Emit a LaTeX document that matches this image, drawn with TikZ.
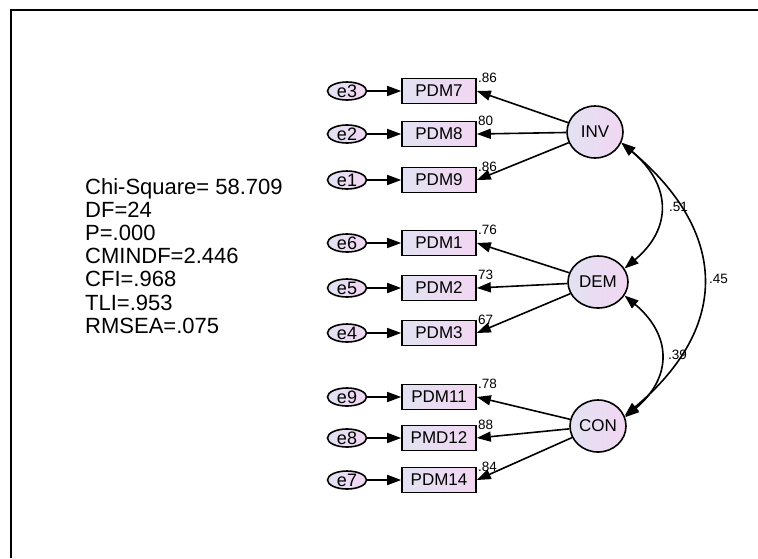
\documentclass[tikz,border=0pt]{standalone}
\usepackage{fontspec}
\setmainfont{Liberation Sans}
\usetikzlibrary{arrows.meta,shapes.geometric}
\definecolor{lavL}{RGB}{226,226,242}
\definecolor{lavR}{RGB}{242,214,242}
\tikzset{
 obs/.style={draw,line width=1.6pt,minimum width=74pt,minimum height=25pt,inner sep=0pt,
  left color=lavL,right color=lavR,font=\fontsize{17}{17}\selectfont},
 err/.style={draw,line width=1.6pt,ellipse,minimum width=39pt,minimum height=18pt,inner sep=0pt,
  left color=lavL,right color=lavR,font=\fontsize{18}{18}\selectfont},
 lat/.style={draw,line width=1.6pt,ellipse,minimum width=56pt,minimum height=52pt,inner sep=0pt,
  left color=lavL,right color=lavR,font=\fontsize{17}{17}\selectfont},
 arr/.style={-{Triangle[length=14pt,width=10pt]},line width=1.6pt},
 cov/.style={{Triangle[length=14pt,width=10pt]}-{Triangle[length=14pt,width=10pt]},line width=1.6pt},
 wt/.style={font=\fontsize{13.5}{13.5}\selectfont,anchor=base west,inner sep=0pt},
 fit/.style={font=\fontsize{22}{22}\selectfont,anchor=base west,inner sep=0pt}
}
\begin{document}
\begin{tikzpicture}[x=1pt,y=-1pt]
 \useasboundingbox (0,0) rectangle (758,558);
 \draw[line width=1.2pt] (11,558)--(11,10)--(758,10);
 \foreach \t [count=\i] in {Chi-Square= 58.709,DF=24,P=.000,CMINDF=2.446,CFI=.968,TLI=.953,RMSEA=.075}
  \node[fit] (fit\i) at (85,{194+23.2*(\i-1)}) {\t};
 \node[lat] (INV) at (595,132) {INV};
 \node[lat,minimum width=60pt] (DEM) at (598,282) {DEM};
 \node[lat] (CON) at (598,426) {CON};
 \foreach \o/\e/\y/\w/\f in {PDM7/e3/91/.86/INV,PDM8/e2/134/80/INV,PDM9/e1/180/.86/INV,
   PDM1/e6/243/.76/DEM,PDM2/e5/288/73/DEM,PDM3/e4/333/67/DEM,
   PDM11/e9/397/.78/CON,PMD12/e8/438/88/CON,PDM14/e7/480/.84/CON}{
  \node[obs] (\o) at (439,\y) {\o};
  \node[err] (\e) at (347,\y) {\e};
  \draw[arr] (\e) -- (\o);
  \draw[arr] (\f) -- (\o.east);
  \node[wt] at ([xshift=1pt,yshift=-5pt]\o.north east) {\w};
 }
 \draw[cov] (INV.-22) to[out=-40,in=40,looseness=1.3] (DEM.27);
 \draw[cov] (INV.-22) to[out=-40,in=40,looseness=1.3] (CON.21);
 \draw[cov] (DEM.-27) to[out=-40,in=40,looseness=1.3] (CON.18);
 \node[wt] (r1) at (669,211) {.51};
 \node[wt] (r2) at (709,283) {.45};
 \node[wt] (r3) at (668,359) {.39};
\end{tikzpicture}
\end{document}
